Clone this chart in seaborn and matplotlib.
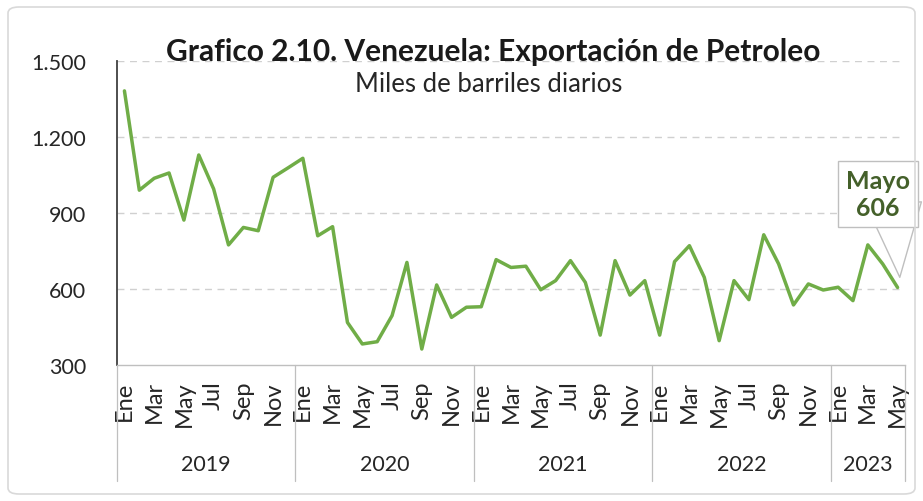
import matplotlib
matplotlib.use("Agg")
import matplotlib.pyplot as plt
import seaborn as sns
import pandas as pd
import numpy as np
from matplotlib.patches import FancyBboxPatch

years = ["2019", "2020", "2021", "2022", "2023"]
months_per_year = [12, 12, 12, 12, 5]
month_names = ["Ene", "Feb", "Mar", "Abr", "May", "Jun", "Jul", "Ago", "Sep", "Oct", "Nov", "Dic"]

exports_2019 = [1382, 990, 1037, 1058, 872, 1129, 995, 774, 843, 830, 1041, 1078]
exports_2020 = [1116, 810, 846, 468, 383, 392, 495, 705, 363, 616, 488, 528]
exports_2021 = [530, 716, 685, 690, 597, 633, 712, 626, 418, 712, 576, 633]
exports_2022 = [418, 708, 771, 646, 396, 633, 558, 814, 699, 537, 620, 596]
exports_2023 = [607, 554, 774, 699, 606]

y_ticks = [300, 600, 900, 1200, 1500]
y_tick_labels = ["300", "600", "900", "1.200", "1.500"]

title = "Grafico 2.10. Venezuela: Exportación de Petroleo"
subtitle = "Miles de barriles diarios"
callout = "Mayo\n606"

values = exports_2019 + exports_2020 + exports_2021 + exports_2022 + exports_2023
labels = []
year_col = []
for y, n in zip(years, months_per_year):
    labels += month_names[:n]
    year_col += [y] * n
df = pd.DataFrame({"idx": np.arange(len(values)), "value": values, "month": labels, "year": year_col})

sns.set_theme(style="white")
FONT = ["Lato", "DejaVu Sans"]
plt.rcParams["font.family"] = FONT

fig = plt.figure(figsize=(9.23, 5.02), dpi=100)
W, H = 923, 502
ax = fig.add_axes([117 / W, 1 - 366 / H, (905 - 117) / W, (366 - 62) / H])

# outer border
fig.patches.append(FancyBboxPatch((8 / W, 7 / H), (915 - 8) / W, (494 - 7) / H,
                                  boxstyle="round,pad=0,rounding_size=0.012",
                                  transform=fig.transFigure, facecolor="none",
                                  edgecolor="#D9D9D9", linewidth=1.2))

sns.lineplot(data=df, x="idx", y="value", ax=ax, color="#70AD47", linewidth=2.5, zorder=3)

ax.set_xlim(-0.5, len(values) - 0.5)
ax.set_ylim(300, 1500)
ax.set_yticks(y_ticks)
ax.set_yticklabels(y_tick_labels, fontsize=15.5, color="#262626")
for yt in y_ticks[1:]:
    ax.axhline(yt, color="#D0D0D0", linestyle=(0, (5, 4)), linewidth=1, zorder=1)

tick_pos = [i for i, m in enumerate(labels) if month_names.index(m) % 2 == 0]
ax.set_xticks(tick_pos)
ax.set_xticklabels([labels[i] for i in tick_pos], rotation=90, fontsize=17, color="#262626")
ax.tick_params(axis="both", length=0)
ax.tick_params(axis="x", pad=11)
ax.tick_params(axis="y", pad=22)
ax.set_xlabel("")
ax.set_ylabel("")

for s in ["top", "right"]:
    ax.spines[s].set_visible(False)
ax.spines["left"].set_color("#404040")
ax.spines["left"].set_linewidth(1.3)
ax.spines["bottom"].set_color("#BFBFBF")
ax.spines["bottom"].set_linewidth(1)

# year separators and labels
trans = ax.get_xaxis_transform()
start = 0
bounds = [-0.5]
for y, n in zip(years, months_per_year):
    center = start + (n - 1) / 2
    ax.text(center, -(465 - 366) / 304, y, transform=trans, ha="center", va="center",
            fontsize=15.5, color="#262626")
    start += n
    bounds.append(start - 0.5)
for b in bounds:
    ax.plot([b, b], [0, -(482 - 366) / 304], transform=trans, color="#BFBFBF",
            linewidth=0.9, clip_on=False)

fig.text(493 / W, 1 - 52 / H, title, ha="center", va="center", fontsize=21.5,
         fontweight="bold", color="#1a1a1a")
fig.text(489 / W, 1 - 85 / H, subtitle, ha="center", va="center", fontsize=18.5, color="#262626")

last = len(values) - 1
# callout tail
ax.annotate("", xy=(last + 0.15, values[-1] + 40), xycoords="data",
            xytext=(894 / W, 1 - 205 / H), textcoords="figure fraction", fontsize=18,
            arrowprops=dict(arrowstyle="wedge,tail_width=2.2,shrink_factor=0.5",
                            facecolor="white", edgecolor="#BFBFBF", linewidth=1,
                            shrinkA=0, shrinkB=0),
            annotation_clip=False, zorder=5)
# callout box
ax.annotate(callout, xy=(878 / W, 1 - 195 / H), xycoords="figure fraction",
            ha="center", va="center", fontsize=18, fontweight="bold", color="#44602A",
            linespacing=1.2,
            bbox=dict(boxstyle="square,pad=0.32", facecolor="white", edgecolor="#BFBFBF", linewidth=1),
            annotation_clip=False, zorder=6)

fig.savefig("out.png", dpi=100)
